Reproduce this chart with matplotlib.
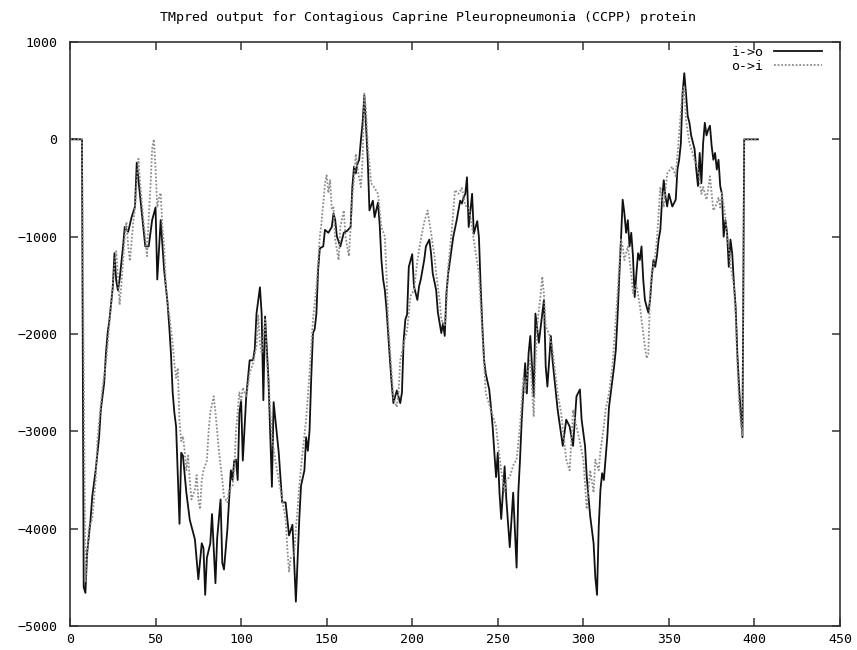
import matplotlib.pyplot as plt

# i->o curve (solid), residue position vs score
io_x = [0, 7, 8, 9, 10, 12, 13, 15, 17, 18, 20, 21, 22, 23, 25, 26, 27, 28, 29, 31,
        32, 34, 36, 38, 39, 41, 44, 46, 48, 50, 51, 53, 55, 57, 58, 59, 60, 61, 62, 64,
        65, 66, 68, 70, 73, 75, 77, 78, 79, 80, 82, 83, 85, 86, 88, 89, 90, 92, 94, 95,
        96, 97, 98, 99, 100, 101, 103, 105, 107, 108, 109, 111, 112, 113, 114, 116, 118, 119, 122, 124,
        126, 128, 130, 131, 132, 134, 135, 137, 138, 139, 140, 141, 142, 143, 144, 145, 146, 148, 149, 151,
        153, 154, 155, 156, 158, 160, 162, 164, 165, 166, 167, 168, 169, 170, 171, 172, 173, 174, 175, 177,
        178, 180, 181, 182, 183, 184, 185, 186, 187, 188, 189, 191, 193, 194, 195, 196, 197, 198, 200, 201,
        203, 204, 205, 207, 208, 210, 211, 212, 214, 215, 217, 218, 219, 220, 221, 224, 226, 228, 229, 230,
        231, 232, 233, 235, 236, 238, 239, 240, 241, 242, 243, 245, 246, 247, 248, 249, 250, 251, 252, 254,
        255, 257, 259, 261, 262, 263, 264, 265, 266, 267, 268, 269, 271, 272, 274, 276, 277, 278, 279, 281,
        282, 284, 285, 288, 290, 292, 294, 296, 298, 299, 301, 302, 304, 306, 307, 308, 309, 310, 311, 312,
        314, 315, 317, 318, 319, 320, 321, 322, 323, 324, 325, 326, 327, 328, 329, 330, 331, 332, 333, 334,
        335, 336, 337, 338, 339, 340, 341, 342, 343, 344, 345, 346, 347, 348, 349, 350, 352, 354, 355, 356,
        357, 358, 359, 360, 361, 362, 363, 365, 366, 367, 368, 369, 370, 371, 372, 373, 374, 375, 376, 377,
        378, 379, 380, 381, 382, 383, 384, 385, 386, 387, 388, 389, 390, 391, 392, 393, 394, 402]
io_y = [0, 0, -4600, -4660, -4250, -3910, -3670, -3400, -3060, -2780, -2500, -2200, -1990, -1860, -1520, -1170, -1450, -1550, -1440, -1100,
        -900, -950, -800, -690, -240, -590, -1100, -1100, -830, -700, -1440, -830, -1340, -1680, -1920, -2200, -2600, -2810, -2950, -3950,
        -3220, -3250, -3630, -3910, -4110, -4520, -4150, -4200, -4680, -4300, -4150, -3850, -4560, -4100, -3700, -4350, -4420, -4000, -3400, -3500,
        -3300, -3290, -3500, -2810, -2680, -3300, -2640, -2270, -2270, -2150, -1790, -1520, -1790, -2680, -1820, -2470, -3570, -2700, -3220, -3730,
        -3730, -4070, -3960, -4340, -4750, -3900, -3560, -3400, -3060, -3200, -2990, -2440, -1990, -1950, -1790, -1340, -1120, -1100, -930, -960,
        -900, -760, -830, -1000, -1100, -960, -940, -900, -490, -280, -350, -250, -210, -10, 170, 450, 140, -210, -730, -630,
        -800, -650, -880, -1240, -1440, -1550, -1750, -2010, -2270, -2510, -2710, -2580, -2710, -2600, -2060, -1850, -1800, -1310, -1180, -1510,
        -1650, -1510, -1440, -1240, -1100, -1030, -1170, -1380, -1550, -1780, -1990, -1890, -2020, -1580, -1380, -1000, -830, -630, -660, -600,
        -560, -390, -900, -560, -970, -840, -1010, -1520, -1930, -2270, -2410, -2570, -2750, -2950, -3220, -3470, -3220, -3630, -3900, -3360,
        -3700, -4190, -3630, -4400, -3630, -3290, -2880, -2570, -2300, -2610, -2200, -2020, -2640, -1790, -2090, -1790, -1650, -2330, -2540, -2020,
        -2270, -2610, -2780, -3150, -2880, -2950, -3150, -2640, -2570, -2880, -3150, -3470, -3870, -4150, -4500, -4680, -3980, -3600, -3430, -3500,
        -3060, -2750, -2470, -2330, -2160, -1820, -1410, -1030, -620, -760, -960, -830, -1100, -960, -1200, -1620, -1380, -1170, -1240, -1100,
        -1440, -1650, -1720, -1780, -1650, -1410, -1240, -1310, -1200, -1030, -930, -620, -420, -590, -690, -560, -690, -620, -310, -210,
        -40, 470, 680, 470, 240, 170, 40, -100, -310, -480, -140, -450, -40, 170, 40, 100, 140, -70, -210, -140,
        -310, -210, -480, -560, -1000, -830, -960, -1310, -1030, -1170, -1480, -1720, -2200, -2540, -2820, -3060, 0, 0]

# o->i curve (dotted)
oi_x = [0, 7, 8, 9, 10, 11, 13, 15, 16, 17, 19, 21, 23, 24, 26, 27, 28, 29, 30, 32,
        33, 34, 35, 37, 38, 40, 41, 43, 44, 45, 46, 47, 48, 49, 50, 51, 52, 53, 54, 55,
        56, 57, 58, 60, 61, 62, 63, 64, 65, 66, 67, 68, 69, 70, 71, 73, 74, 75, 76, 77,
        78, 80, 81, 82, 84, 85, 86, 87, 88, 89, 90, 92, 93, 95, 96, 97, 98, 99, 100, 101,
        103, 105, 107, 109, 110, 111, 112, 114, 115, 116, 118, 120, 122, 124, 126, 127, 128, 129, 131, 132,
        133, 134, 136, 138, 140, 142, 144, 146, 147, 148, 149, 150, 151, 152, 153, 154, 155, 157, 158, 160,
        161, 163, 165, 166, 167, 168, 170, 171, 172, 173, 174, 176, 178, 180, 182, 184, 185, 186, 188, 189,
        191, 192, 193, 195, 197, 199, 201, 203, 205, 207, 209, 210, 211, 213, 214, 216, 217, 219, 220, 221,
        223, 225, 227, 229, 231, 233, 235, 236, 239, 241, 243, 246, 249, 250, 252, 254, 255, 257, 259, 261,
        263, 265, 266, 267, 269, 271, 272, 273, 275, 276, 277, 278, 280, 282, 285, 287, 290, 292, 293, 294,
        296, 298, 300, 302, 304, 306, 307, 309, 310, 312, 313, 315, 317, 319, 321, 322, 323, 324, 326, 328,
        329, 331, 333, 334, 336, 337, 338, 339, 340, 342, 343, 345, 346, 347, 349, 352, 354, 356, 358, 359,
        360, 362, 364, 365, 367, 369, 370, 372, 374, 376, 378, 379, 380, 381, 383, 384, 385, 386, 387, 388,
        389, 390, 391, 392, 393, 394, 402]
oi_y = [0, 0, -2300, -4550, -4300, -4000, -3900, -3500, -3100, -2900, -2550, -2300, -1900, -1700, -1300, -1150, -1400, -1700, -1500, -1000,
        -850, -1100, -1250, -850, -700, -200, -450, -850, -1000, -1200, -800, -500, -100, 0, -300, -700, -600, -550, -900, -1100,
        -1500, -1700, -1800, -2100, -2300, -2450, -2350, -2900, -3100, -3050, -3200, -3400, -3250, -3500, -3700, -3600, -3450, -3700, -3800, -3500,
        -3400, -3300, -3000, -2800, -2640, -2800, -3000, -3200, -3350, -3500, -3670, -3730, -3600, -3560, -3400, -3000, -2800, -2600, -2700, -2550,
        -2650, -2400, -2300, -2120, -1800, -2100, -2200, -1850, -2270, -2500, -3060, -3300, -3500, -3700, -3900, -4200, -4440, -4300, -4270, -4000,
        -3800, -3560, -3200, -2880, -2400, -1850, -1520, -1000, -850, -660, -450, -370, -550, -420, -720, -700, -1030, -1240, -900, -730,
        -1000, -1200, -600, -400, -150, -300, -490, -200, 470, 300, -60, -450, -500, -560, -900, -1000, -1400, -1900, -2400, -2660,
        -2750, -2600, -2270, -2100, -1960, -1610, -1550, -1250, -1030, -850, -730, -850, -960, -1200, -1380, -1650, -1850, -1920, -1700, -1310,
        -960, -520, -560, -500, -680, -700, -900, -1040, -1380, -2000, -2610, -2780, -2950, -3110, -3400, -3630, -3500, -3470, -3350, -3290,
        -2950, -2440, -2600, -2440, -2270, -2850, -2300, -1920, -1600, -1410, -1600, -1920, -2000, -2160, -2610, -2810, -3290, -3400, -3100, -2780,
        -2950, -3110, -3290, -3800, -3400, -3630, -3290, -3400, -3200, -2950, -2780, -2610, -2330, -1850, -1310, -1030, -1100, -1240, -1100, -1380,
        -1580, -1500, -1700, -1850, -2130, -2250, -2200, -1580, -1380, -1200, -1030, -490, -600, -690, -350, -280, -380, 60, 500, 550,
        200, -40, -150, -210, -310, -560, -490, -620, -380, -730, -660, -600, -700, -550, -800, -1000, -1100, -1300, -1400, -1500,
        -1800, -2300, -2700, -2900, -3050, 0, 0]

x_ticks = [0, 50, 100, 150, 200, 250, 300, 350, 400, 450]
y_ticks = [1000, 0, -1000, -2000, -3000, -4000, -5000]

mono = "DejaVu Sans Mono"

fig = plt.figure(figsize=(8.57, 6.5), dpi=100)
ax = fig.add_axes([70 / 857, 24 / 650, 770 / 857, 584 / 650])

ax.plot(io_x, io_y, color="#111111", linewidth=1.3, label="i->o")
ax.plot(oi_x, oi_y, color="#8c8c8c", linewidth=1.3, linestyle=(0, (1, 1)), label="o->i")

ax.set_xlim(0, 450)
ax.set_ylim(-5000, 1000)
ax.set_xticks(x_ticks)
ax.set_yticks(y_ticks)
ax.tick_params(direction="in", top=True, right=True, length=6, width=1.1,
               color="#333333", labelsize=9.5)
ax.tick_params(axis="y", pad=9)
ax.tick_params(axis="x", pad=5)
for lab in ax.get_xticklabels() + ax.get_yticklabels():
    lab.set_family(mono)
for s in ax.spines.values():
    s.set_linewidth(1.2)
    s.set_color("#333333")

fig.text(0.5, 1 - 18 / 650, "TMpred output for Contagious Caprine Pleuropneumonia (CCPP) protein",
         ha="center", va="center", family=mono, fontsize=9.5)

ax.legend(loc="upper right", bbox_to_anchor=(0.976, 0.993), frameon=False,
          markerfirst=False, handlelength=3.6, handletextpad=0.8,
          labelspacing=0.05, borderpad=0, borderaxespad=0,
          prop={"family": mono, "size": 9.5})

fig.savefig("out.png", dpi=100)
